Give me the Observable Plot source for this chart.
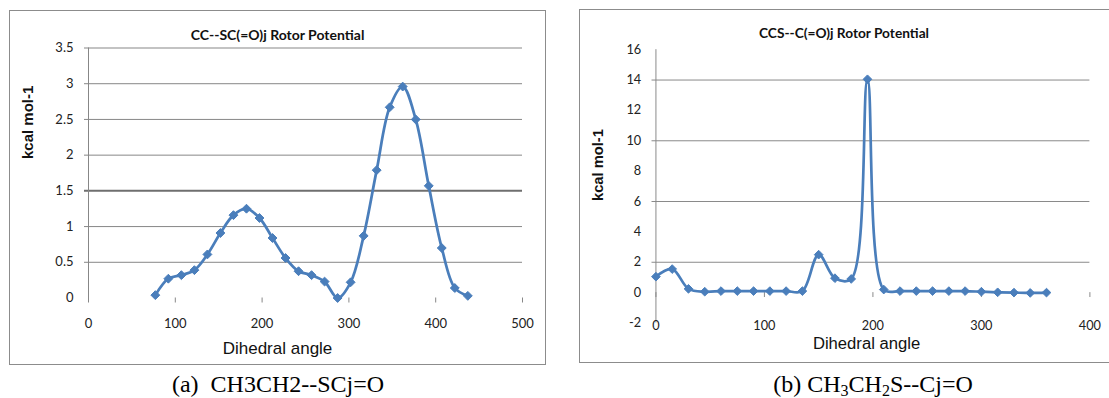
<!DOCTYPE html>
<html>
<head>
<meta charset="utf-8">
<script src="https://cdn.jsdelivr.net/npm/d3@7"></script>
<script src="https://cdn.jsdelivr.net/npm/@observablehq/plot@0.6"></script>
<style>
  html, body { margin: 0; padding: 0; background: #fff; overflow: hidden; }
  #page { position: relative; width: 1109px; height: 398px; overflow: hidden; background: #fff; }
  .frame { position: absolute; border: 1.5px solid #8c8c8c; box-sizing: border-box; background: #fff; }
  .chart { position: absolute; }
  .caption { position: absolute; top: 372px; font-family: "Liberation Serif", "Times New Roman", serif; font-size: 24px; line-height: 24px; color: #000; text-align: center; white-space: nowrap; transform: translateX(-50%); }
  .caption .sb { font-size: 16px; position: relative; top: 4px; }
</style>
</head>
<body>
<div id="page">
  <div class="frame" style="left:9px; top:10px; width:537px; height:355px;"></div>
  <div class="frame" style="left:579px; top:9px; width:560px; height:354px;"></div>
  <div id="left" class="chart" style="left:10px; top:11px;"></div>
  <div id="right" class="chart" style="left:580px; top:10px;"></div>
  <div class="caption" style="left:278px;">(a)&nbsp; CH3CH2--SCj=O</div>
  <div class="caption" style="left:873px;">(b) CH<span class="sb">3</span>CH<span class="sb">2</span>S--Cj=O</div>
</div>
<script>
// ---- Data: (a) CH3CH2--SCj=O ----
const leftTitle = "CC--SC(=O)j Rotor Potential";
const leftAngles = [77, 92, 107, 122, 137, 152, 167, 182, 197, 212, 227, 242, 257, 272, 287, 302, 317, 332, 347, 362, 377, 392, 407, 422, 437];
const leftEnergy = [0.04, 0.27, 0.32, 0.39, 0.61, 0.91, 1.16, 1.25, 1.12, 0.84, 0.56, 0.375, 0.32, 0.23, 0.0, 0.22, 0.87, 1.79, 2.67, 2.96, 2.50, 1.57, 0.70, 0.14, 0.03];
const leftXTicks = [0, 100, 200, 300, 400, 500];
const leftYTicks = [0, 0.5, 1, 1.5, 2, 2.5, 3, 3.5];
const leftGrid = [0.5, 1, 2, 2.5, 3, 3.5];
const leftGridStrong = [1.5];

// ---- Data: (b) CH3CH2S--Cj=O ----
const rightTitle = "CCS--C(=O)j Rotor Potential";
const rightAngles = [0, 15, 30, 45, 60, 75, 90, 105, 120, 135, 150, 165, 180, 195, 210, 225, 240, 255, 270, 285, 300, 315, 330, 345, 360];
const rightEnergy = [1.05, 1.55, 0.25, 0.06, 0.1, 0.1, 0.1, 0.1, 0.1, 0.1, 2.5, 0.95, 0.9, 14.05, 0.2, 0.1, 0.1, 0.1, 0.1, 0.1, 0.06, 0.02, 0.0, -0.02, 0.0];
const rightXTicks = [0, 100, 200, 300, 400];
const rightYTicks = [-2, 0, 2, 4, 6, 8, 10, 12, 14, 16];
const rightGrid = [2, 6, 10, 14];

const xLabel = "Dihedral angle";
const yLabel = "kcal mol-1";

const lineColor = "#4a7ebb";
const gridColor = "#878787";
const tickFont = "Lato, 'Open Sans', sans-serif";
const labelFont = "'Liberation Sans', Arial, sans-serif";

const leftData = leftAngles.map((a, i) => ({angle: a, energy: leftEnergy[i]}));
const rightData = rightAngles.map((a, i) => ({angle: a, energy: rightEnergy[i]}));

const fmt = d => String(d);

const left = Plot.plot({
  width: 534, height: 352,
  marginLeft: 78, marginRight: 22, marginTop: 36.5, marginBottom: 65.5,
  x: {domain: [0, 500], label: null},
  y: {domain: [0, 3.5], label: null},
  style: {background: "transparent", color: "#222", fontFamily: tickFont, fontSize: "13px", overflow: "visible"},
  marks: [
    Plot.ruleY(leftGrid, {stroke: gridColor, strokeWidth: 1, insetLeft: -4}),
    Plot.ruleY(leftGridStrong, {stroke: "#6f6f6f", strokeWidth: 2, insetLeft: -4}),
    Plot.ruleX([0], {stroke: gridColor, strokeWidth: 1, insetBottom: -4}),
    Plot.ruleX(leftXTicks, {y1: () => 0, y2: () => 0, insetBottom: -5, stroke: gridColor}),
    Plot.axisY(leftYTicks, {label: null, tickSize: 0, tickPadding: 15, tickFormat: fmt, fontSize: 13, fill: "#222"}),
    Plot.axisX(leftXTicks, {label: null, tickSize: 0, tickPadding: 21, tickFormat: fmt, fontSize: 13, fill: "#222"}),
    Plot.line(leftData, {x: "angle", y: "energy", curve: "catmull-rom", stroke: lineColor, strokeWidth: 2.75}),
    Plot.dot(leftData, {x: "angle", y: "energy", symbol: "diamond2", r: 4, fill: lineColor, stroke: lineColor, strokeWidth: 1}),
    Plot.text([leftTitle], {frameAnchor: "top", dx: -28, dy: -12.5, lineAnchor: "middle", fontWeight: "bold", fontSize: 14, fill: "#111"}),
    Plot.text([xLabel], {frameAnchor: "bottom", dx: -28, dy: 50.5, lineAnchor: "middle", fontFamily: labelFont, fontSize: 17, fill: "#111"}),
    Plot.text([yLabel], {frameAnchor: "left", dx: -60, dy: -14, rotate: -90, lineAnchor: "middle", fontFamily: labelFont, fontWeight: "bold", fontSize: 15, fill: "#111"})
  ]
});
document.getElementById("left").append(left);

const right = Plot.plot({
  width: 540, height: 351,
  marginLeft: 77, marginRight: 20, marginTop: 40, marginBottom: 32,
  x: {domain: [0, 400], label: null},
  y: {domain: [-2, 16], label: null},
  style: {background: "transparent", color: "#222", fontFamily: tickFont, fontSize: "13px", overflow: "visible"},
  marks: [
    Plot.ruleY(rightGrid, {stroke: gridColor, strokeWidth: 1, insetLeft: -4}),
    Plot.ruleX([0], {stroke: gridColor, strokeWidth: 1}),
    Plot.ruleX(rightXTicks, {y1: () => 0, y2: () => 0, insetBottom: -5, stroke: gridColor}),
    Plot.axisY(rightYTicks, {label: null, tickSize: 0, tickPadding: 15, tickFormat: fmt, fontSize: 13, fill: "#222"}),
    Plot.axisX(rightXTicks, {label: null, tickSize: 0, tickPadding: -2, tickFormat: fmt, fontSize: 13, fill: "#222"}),
    Plot.line(rightData, {x: "angle", y: "energy", curve: "catmull-rom", stroke: lineColor, strokeWidth: 2.75}),
    Plot.dot(rightData, {x: "angle", y: "energy", symbol: "diamond2", r: 4, fill: lineColor, stroke: lineColor, strokeWidth: 1}),
    Plot.text([rightTitle], {frameAnchor: "top", dx: -29.5, dy: -16, lineAnchor: "middle", fontWeight: "bold", fontSize: 14, fill: "#111"}),
    Plot.text([xLabel], {frameAnchor: "bottom", dx: -6.5, dy: 21, lineAnchor: "middle", fontFamily: labelFont, fontSize: 17, fill: "#111"}),
    Plot.text([yLabel], {frameAnchor: "left", dx: -59, dy: 15, rotate: -90, lineAnchor: "middle", fontFamily: labelFont, fontWeight: "bold", fontSize: 15, fill: "#111"})
  ]
});
document.getElementById("right").append(right);
</script>
</body>
</html>
